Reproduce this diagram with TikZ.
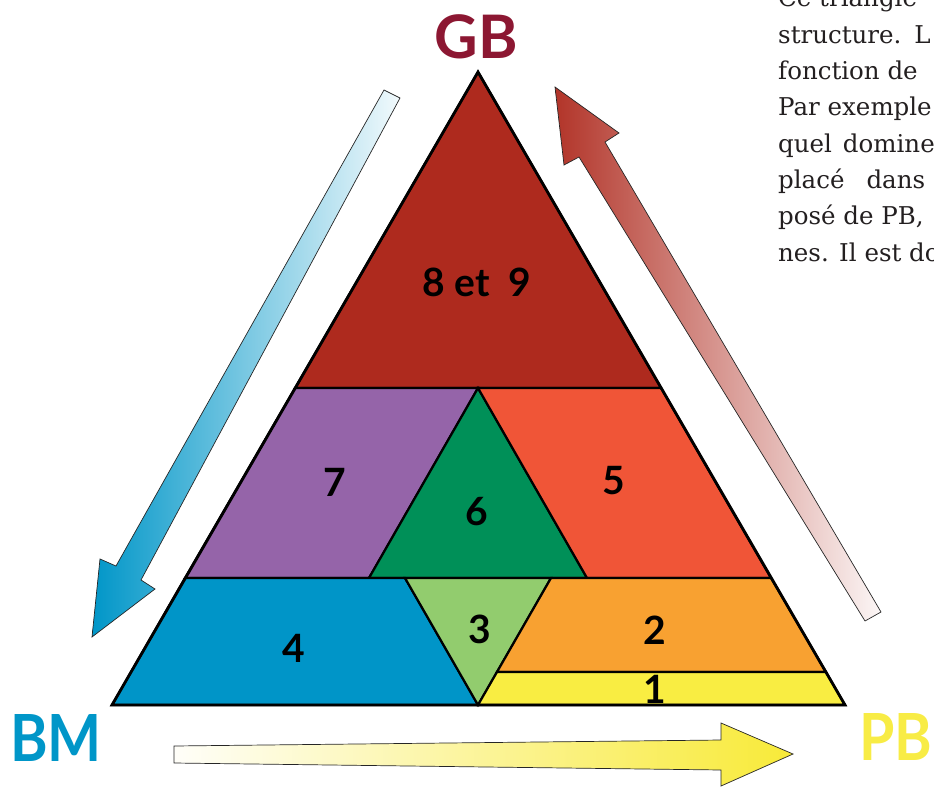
\documentclass[tikz,border=0pt]{standalone}
\usepackage{fontspec}
\usepackage{graphicx}
\newfontfamily\lblfont{Lato}
\newfontfamily\bodyfont{DejaVu Serif}
\usetikzlibrary{calc}
\definecolor{gbred}{HTML}{8C1732}
\definecolor{bmblue}{HTML}{0096C8}
\definecolor{pbyellow}{HTML}{F8EC45}
\definecolor{zoneA}{HTML}{AE2A1E}
\definecolor{zoneB}{HTML}{9564A9}
\definecolor{zoneC}{HTML}{009058}
\definecolor{zoneD}{HTML}{F05537}
\definecolor{zoneE}{HTML}{0095C8}
\definecolor{zoneF}{HTML}{92CC6E}
\definecolor{zoneG}{HTML}{F8A131}
\definecolor{zoneH}{HTML}{F9ED42}
\definecolor{arrowcyan}{HTML}{14B4DC}
\definecolor{arrowyellow}{HTML}{F8EA38}
\definecolor{bodytext}{HTML}{231F20}

\begin{document}
\begin{tikzpicture}[x=1pt, y=-1pt,
    zone/.style={draw=black, line width=2.2pt},
    num/.style={inner sep=0pt, font={\lblfont\bfseries\fontsize{39}{39}\selectfont}},
    pole/.style={inner sep=0pt, font={\lblfont\bfseries\fontsize{65}{65}\selectfont}},
    bigarrow/.style={draw=black!85, line width=0.7pt},
    txtline/.style={anchor=base west, inner sep=0pt, text=bodytext,
      font={\bodyfont\fontsize{24.5}{36}\selectfont}}]
  \useasboundingbox (0,0) rectangle (934,789);
  \coordinate (T) at (478,72);
  \coordinate (L) at (112,705);
  \coordinate (R) at (845,705);
  \coordinate (M) at (478,705);
  \coordinate (a1) at (295,388);
  \coordinate (a0) at (478,388);
  \coordinate (a2) at (661,388);
  \coordinate (b1) at (185,578);
  \coordinate (g1) at (369,578);
  \coordinate (h1) at (405,578);
  \coordinate (h2) at (551,578);
  \coordinate (g2) at (587,578);
  \coordinate (b2) at (771,578);
  \coordinate (c1) at (497,672);
  \coordinate (c2) at (826,672);

  \filldraw[zone, fill=zoneA] (T) -- (a1) -- (a2) -- cycle;
  \filldraw[zone, fill=zoneB] (a1) -- (a0) -- (g1) -- (b1) -- cycle;
  \filldraw[zone, fill=zoneC] (a0) -- (g2) -- (g1) -- cycle;
  \filldraw[zone, fill=zoneD] (a0) -- (a2) -- (b2) -- (g2) -- cycle;
  \filldraw[zone, fill=zoneE] (b1) -- (h1) -- (M) -- (L) -- cycle;
  \filldraw[zone, fill=zoneF] (h1) -- (h2) -- (M) -- cycle;
  \filldraw[zone, fill=zoneG] (h2) -- (b2) -- (c2) -- (c1) -- cycle;
  \filldraw[zone, fill=zoneH] (c1) -- (c2) -- (R) -- (M) -- cycle;
  \draw[line width=2.8pt] (T) -- (L) -- (R) -- cycle;

  \node[num] (n89) at (477,282) {8 et\ \ 9};
  \node[num] (n7) at (335,482) {7};
  \node[num] (n6) at (477,512) {6};
  \node[num] (n5) at (614,481) {5};
  \node[num] (n4) at (294,648) {4};
  \node[num] (n3) at (480,629) {3};
  \node[num] (n2) at (655,630) {2};
  \node[num] (n1) at (655,689) {1};

  \node[pole, text=gbred, font={\lblfont\bfseries\fontsize{60}{60}\selectfont}] (gb) at (476,37) {GB};
  \node[pole, text=bmblue] (bm) at (56,738) {\scalebox{0.88}[1]{BM}};
  \node[pole, text=pbyellow] (pb) at (896,737) {\scalebox{0.88}[1]{PB}};

  \shade[bigarrow, left color=bmblue, middle color=arrowcyan!75!white, right color=bmblue!5!white]
    (384,90) -- (116,566) -- (100,559) -- (92,637) -- (155,589) -- (141,580) -- (400,98) -- cycle;
  \shade[bigarrow, left color=zoneA!95!white, middle color=zoneA!55!white, right color=zoneA!4!white]
    (865,621) -- (579,157) -- (564,165) -- (555,87) -- (619,133) -- (605,142) -- (881,612) -- cycle;
  \shade[bigarrow, left color=arrowyellow!3!white, middle color=arrowyellow!50!white, right color=arrowyellow]
    (174,746) -- (721,740) -- (721,723) -- (793,754) -- (721,786) -- (721,770) -- (174,763) -- cycle;

  \begin{scope}
    \clip (0,0) rectangle (934,789);
    \foreach \txt [count=\i] in {Ce triangle, structure.\hspace{13pt}L, fonction de, Par exemple,
        quel\hspace{11pt}domine, placé\hspace{22pt}dans, {posé de PB,}, nes. Il est do}
      \node[txtline] (line\i) at (778,{7+(\i-1)*36.3}) {\txt};
  \end{scope}
\end{tikzpicture}
\end{document}
